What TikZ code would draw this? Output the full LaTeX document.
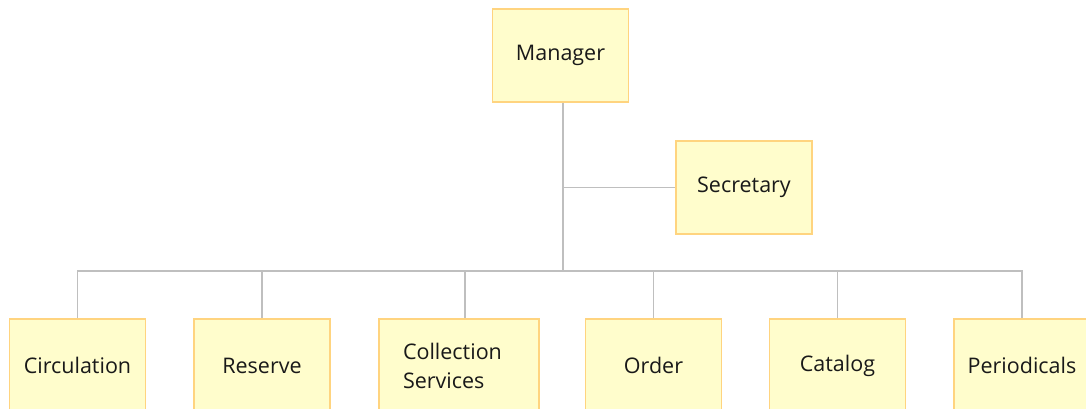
\documentclass[tikz,border=0pt]{standalone}
\usepackage{fontspec}
\setmainfont{Open Sans}
\usepackage{tikz}
\usetikzlibrary{positioning}
\definecolor{boxfill}{HTML}{FFFDCC}
\definecolor{boxline}{HTML}{FFD47F}
\definecolor{linkgray}{HTML}{BFBFBF}
\tikzstyle{unit} = [draw=boxline, fill=boxfill, line width=1.5pt, minimum width=136pt, minimum height=93pt, inner sep=2pt, font=\fontsize{21.5}{29}\selectfont, text=black!90]
\tikzstyle{link} = [draw=linkgray, line width=1.5pt]

\begin{document}
\begin{tikzpicture}[x=1pt, y=-1pt]
\useasboundingbox (0, 0) rectangle (1086, 409);
\clip (0, 0) rectangle (1086, 409);
\node [unit] (Mgr) at (560.5, 55.5) {Manager};
\node [unit] (Sec) at (744, 187.5) {Secretary};
\node [unit] (Circ) at (77.5, 365.5) {Circulation};
\node [unit] (Res) at (262, 365.5) {Reserve};
\node [unit, minimum width=160pt, align=left, text width=112pt] (Coll) at (459, 365.5) {Collection\\Services};
\node [unit] (Ord) at (653.5, 365.5) {Order};
\node [unit] (Cat) at (837.5, 365.5) {Catalog};
\node [unit] (Per) at (1022, 365.5) {Periodicals};
\coordinate (bus) at (563, 271);
\coordinate (tee) at (bus |- Sec.west);
\draw [link] (Mgr.south -| bus) to (bus);
\draw [link] (tee) to (Sec.west);
\draw [link] (bus) -| (Circ.north);
\draw [link] (bus) -| (Res.north);
\draw [link] (bus) -| ([xshift=6pt]Coll.north);
\draw [link] (bus) -| (Ord.north);
\draw [link] (bus) -| (Cat.north);
\draw [link] (bus) -| (Per.north);
\end{tikzpicture}
\end{document}
